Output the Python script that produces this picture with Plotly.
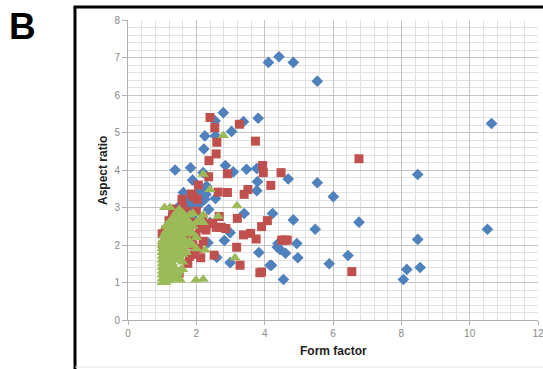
import plotly.graph_objects as go

# ---- data ----
blue_x = [4.11, 4.42, 4.84, 5.54, 10.64, 8.48, 10.52, 8.48, 8.55, 8.16, 8.06, 6.76, 6.44, 5.89,
          6.01, 5.54, 5.48, 4.84, 4.94, 4.97, 4.69, 4.55, 4.61, 4.45, 4.37, 4.39, 4.23, 4.20,
          4.16, 3.83, 3.77, 3.79, 3.77, 3.81, 3.38, 3.40, 3.47, 3.08, 3.03, 2.99, 2.99, 2.82,
          2.85, 2.79, 2.55, 2.56, 2.25, 2.22, 2.56, 2.36, 2.34, 2.60, 2.20, 2.25, 1.38, 1.83,
          1.89, 2.30, 2.11, 1.62, 1.81, 1.48, 1.91, 1.33, 2.40, 1.75, 1.85, 2.00, 2.10, 1.55,
          1.70, 1.90, 2.28]
blue_y = [6.87, 7.02, 6.87, 6.37, 5.24, 3.88, 2.42, 2.15, 1.40, 1.35, 1.08, 2.61, 1.72, 1.50,
          3.29, 3.66, 2.42, 2.67, 2.04, 1.66, 3.76, 1.08, 1.78, 1.88, 1.94, 2.04, 2.84, 1.46,
          1.46, 1.80, 4.04, 3.69, 3.45, 5.38, 5.29, 2.84, 4.02, 3.95, 5.03, 2.33, 1.53, 2.12,
          4.12, 5.53, 5.31, 4.91, 4.91, 4.56, 3.24, 2.95, 2.06, 1.67, 3.93, 3.22, 4.00, 4.06,
          3.73, 3.57, 3.47, 3.40, 3.18, 3.02, 2.71, 2.84, 2.60, 3.20, 3.05, 3.30, 3.10, 2.50,
          2.70, 2.60, 3.35]

red_x = [2.40, 2.54, 3.26, 2.60, 2.58, 3.73, 6.76, 2.37, 3.94, 3.96, 4.48, 2.91, 2.36, 4.18,
         2.64, 2.91, 3.51, 3.40, 2.06, 1.58, 1.86, 2.03, 1.91, 2.67, 3.20, 4.08, 3.91, 2.86,
         2.73, 2.58, 2.48, 2.28, 3.59, 3.38, 3.75, 3.18, 2.52, 2.13, 2.06, 3.28, 3.86, 3.91,
         4.50, 4.66, 6.55, 4.58, 1.75, 1.99, 1.42, 1.18, 1.03, 2.19, 1.68, 1.31, 1.00, 1.02,
         1.05, 1.10, 1.20, 1.30, 1.80, 1.85, 1.90, 1.95, 1.80, 1.70, 1.60, 1.55, 1.65, 1.95,
         2.10, 2.00, 1.50, 1.20, 1.10, 2.30, 2.20]
red_y = [5.40, 5.13, 5.22, 4.74, 4.43, 4.77, 4.30, 4.25, 4.12, 3.93, 3.93, 3.90, 3.82, 3.59,
         3.41, 3.40, 3.48, 3.35, 3.60, 3.22, 3.36, 3.22, 3.29, 2.76, 2.71, 2.65, 2.49, 2.44,
         2.47, 2.47, 2.58, 2.40, 2.31, 2.27, 2.16, 1.94, 1.73, 1.66, 1.91, 1.46, 1.26, 1.28,
         2.13, 2.13, 1.29, 2.13, 1.51, 2.27, 2.67, 2.31, 1.96, 2.73, 2.88, 2.96, 2.30, 2.00,
         1.75, 2.40, 2.65, 2.75, 2.50, 2.20, 2.00, 1.75, 1.70, 2.90, 3.00, 2.60, 2.30, 2.60,
         2.45, 2.90, 1.25, 1.30, 1.40, 2.55, 2.10]

green_x = [1.00, 1.00, 1.00, 1.00, 1.00, 1.00, 1.00, 1.00, 1.00, 1.00, 1.00, 1.00,
           1.05, 1.05, 1.05, 1.05, 1.05, 1.05, 1.05,
           1.10, 1.10, 1.10, 1.10, 1.10, 1.10, 1.10, 1.10, 1.10,
           1.15, 1.15, 1.15, 1.15, 1.15, 1.15, 1.15, 1.15,
           1.20, 1.20, 1.20, 1.20, 1.20, 1.20, 1.20, 1.20, 1.20,
           1.25, 1.25, 1.25, 1.25, 1.25, 1.25, 1.25, 1.25,
           1.30, 1.30, 1.30, 1.30, 1.30, 1.30, 1.30, 1.30, 1.30,
           1.35, 1.35, 1.35, 1.35, 1.35, 1.35, 1.35, 1.35,
           1.40, 1.40, 1.40, 1.40, 1.40, 1.40, 1.40, 1.40, 1.40,
           1.45, 1.45, 1.45, 1.45, 1.45, 1.45, 1.45,
           1.50, 1.50, 1.50, 1.50, 1.50, 1.50, 1.50, 1.50, 1.50,
           1.55, 1.55, 1.55, 1.55, 1.55, 1.55, 1.55,
           1.60, 1.60, 1.60, 1.60, 1.60, 1.60, 1.60, 1.60,
           1.65, 1.65, 1.65, 1.65, 1.65,
           1.70, 1.70, 1.70, 1.70, 1.70,
           1.75, 1.75, 1.75,
           1.80, 1.80, 1.80, 1.80,
           1.90, 1.90, 1.90, 1.90,
           2.00, 2.00, 2.00, 2.10, 2.20, 2.20,
           1.07, 1.23, 2.79, 2.20, 2.40, 3.19, 2.64, 3.13, 2.25, 1.99, 2.20, 1.52, 1.40, 1.25]
green_y = [1.00, 1.10, 1.20, 1.30, 1.40, 1.50, 1.60, 1.70, 1.80, 1.90, 2.00, 2.10,
           1.05, 1.25, 1.45, 1.65, 1.85, 2.05, 2.25,
           1.00, 1.15, 1.35, 1.55, 1.75, 1.95, 2.15, 2.35, 2.50,
           1.10, 1.30, 1.50, 1.70, 1.90, 2.10, 2.30, 2.55,
           1.05, 1.20, 1.40, 1.60, 1.80, 2.00, 2.20, 2.40, 2.60,
           1.15, 1.35, 1.55, 1.75, 1.95, 2.15, 2.35, 2.65,
           1.10, 1.30, 1.50, 1.70, 1.90, 2.10, 2.30, 2.50, 2.70,
           1.20, 1.40, 1.65, 1.85, 2.05, 2.25, 2.45, 2.75,
           1.15, 1.35, 1.60, 1.80, 2.00, 2.20, 2.40, 2.60, 2.85,
           1.25, 1.70, 1.90, 2.10, 2.30, 2.55, 2.80,
           1.10, 1.30, 1.70, 1.90, 2.10, 2.30, 2.50, 2.75, 2.95,
           1.35, 1.60, 1.80, 2.00, 2.25, 2.45, 2.65,
           1.35, 1.55, 1.75, 2.00, 2.20, 2.45, 2.65, 2.85,
           1.90, 2.15, 2.40, 2.60, 2.80,
           1.80, 2.05, 2.30, 2.50, 2.70,
           2.00, 2.40, 2.65,
           2.10, 2.40, 2.60, 2.80,
           2.00, 2.30, 2.50, 2.84,
           2.20, 2.60, 1.90, 2.70, 2.60, 2.80,
           3.00, 3.00, 4.92, 3.89, 3.48, 3.05, 2.77, 1.66, 1.87, 1.07, 1.09, 1.07, 1.10, 1.10]

x_ticks = [0, 2, 4, 6, 8, 10, 12]
y_ticks = [0, 1, 2, 3, 4, 5, 6, 7, 8]

fig = go.Figure()
fig.add_trace(go.Scatter(x=blue_x, y=blue_y, mode="markers",
                         marker=dict(symbol="diamond", size=9, color="#4F81BD")))
fig.add_trace(go.Scatter(x=red_x, y=red_y, mode="markers",
                         marker=dict(symbol="square", size=9, color="#C0504D")))
fig.add_trace(go.Scatter(x=green_x, y=green_y, mode="markers",
                         marker=dict(symbol="triangle-up", size=10, color="#9BBB59")))

tickfont = dict(family="Liberation Sans, Arial", size=10, color="#8a8a8a")
titlefont = dict(family="Liberation Sans, Arial", size=12, color="#222222")

fig.update_layout(
    width=543, height=369,
    margin=dict(l=128, r=5, t=20, b=49),
    paper_bgcolor="white", plot_bgcolor="white",
    showlegend=False,
    xaxis=dict(range=[0, 12], tickvals=x_ticks, ticktext=[str(v) for v in x_ticks],
               automargin=False, ticklabeloverflow="allow",
               showgrid=True, gridcolor="#c4c4c4", gridwidth=1,
               minor=dict(dtick=0.4, showgrid=True, gridcolor="#e2e2e2", gridwidth=1),
               showline=True, linecolor="#b0b0b0", linewidth=1,
               ticks="outside", ticklen=4, tickcolor="#b0b0b0",
               zeroline=False, tickfont=tickfont),
    yaxis=dict(range=[0, 8], tickvals=y_ticks, ticktext=[str(v) for v in y_ticks],
               automargin=False,
               showgrid=True, gridcolor="#c4c4c4", gridwidth=1,
               minor=dict(dtick=0.2, showgrid=True, gridcolor="#e2e2e2", gridwidth=1),
               showline=True, linecolor="#b0b0b0", linewidth=1,
               ticks="outside", ticklen=5, tickcolor="#b0b0b0",
               zeroline=False, tickfont=tickfont),
    shapes=[
        dict(type="line", xref="paper", yref="paper", x0=-0.12927, x1=-0.12927,
             y0=1.04333, y1=-0.17, line=dict(color="black", width=3)),
        dict(type="line", xref="paper", yref="paper", x0=-0.1329, x1=1.03,
             y0=1.04333, y1=1.04333, line=dict(color="black", width=3)),
        dict(type="line", xref="paper", yref="paper", x0=-0.12927, x1=1.03,
             y0=-0.1567, y1=-0.1567, line=dict(color="#e4e4e4", width=1)),
    ],
    annotations=[
        dict(text="<b>B</b>", xref="paper", yref="paper", x=-0.2585, y=0.9767,
             xanchor="center", yanchor="middle", showarrow=False,
             font=dict(family="Liberation Sans, Arial", size=37, color="black")),
        dict(text="<b>Form factor</b>", xref="paper", yref="paper", x=0.5, y=-0.1033,
             xanchor="center", yanchor="middle", showarrow=False, font=titlefont),
        dict(text="<b>Aspect ratio</b>", xref="paper", yref="paper", x=-0.061, y=0.5,
             xanchor="center", yanchor="middle", showarrow=False, textangle=-90,
             font=titlefont),
    ],
)

fig.write_html("out.html", config={"displayModeBar": False},
               post_script="document.body.style.margin='0';document.body.style.overflow='hidden';")
